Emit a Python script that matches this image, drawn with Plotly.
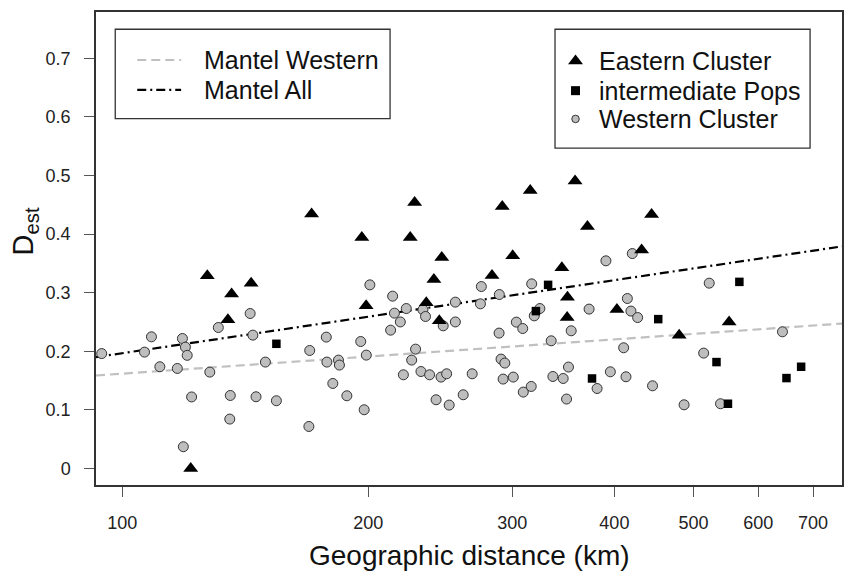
import numpy as np
import plotly.graph_objects as go

# ---------------- data ----------------
west_x = [94.4, 106.5, 108.6, 111.2, 116.8, 118.5, 119.5, 120.1, 121.6, 118.8, 128.0, 131.1,
          135.6, 135.4, 143.4, 144.5, 145.8, 149.7, 154.4, 200.9, 214.2, 215.3, 222.6, 218.9,
          213.0, 233.3, 235.0, 247.0, 255.6, 255.6, 275.0, 274.3, 289.3, 289.1, 303.5, 309.0,
          316.9, 324.3, 319.2, 334.8, 177.7, 169.6, 178.0, 183.9, 184.4, 195.8, 198.9, 181.0,
          188.3, 197.7, 169.2, 228.5, 226.0, 220.8, 232.0, 237.7, 245.5, 249.4, 268.0, 242.1,
          251.2, 261.3, 290.7, 293.8, 292.4, 300.9, 309.5, 316.5, 336.4, 390.6, 420.7, 522.5,
          372.5, 414.9, 419.1, 427.1, 354.2, 410.6, 642.2, 514.4, 351.5, 346.3, 395.5, 413.3,
          381.0, 445.4, 349.6, 486.8, 539.4]
west_y = [0.196, 0.1985, 0.2246, 0.1735, 0.1706, 0.2217, 0.207, 0.193, 0.122, 0.037, 0.1644, 0.2405,
          0.1245, 0.0842, 0.2644, 0.2275, 0.1223, 0.1815, 0.1155, 0.3133, 0.294, 0.265, 0.2729, 0.250,
          0.236, 0.2707, 0.2593, 0.2434, 0.2838, 0.250, 0.3104, 0.2809, 0.2968, 0.231, 0.2497, 0.2388,
          0.315, 0.2729, 0.2604, 0.2178, 0.2241, 0.2013, 0.1815, 0.1849, 0.1764, 0.2166, 0.1934, 0.145,
          0.124, 0.1001, 0.0716, 0.2036, 0.1849, 0.1598, 0.1654, 0.1598, 0.1559, 0.1615, 0.1615, 0.1172,
          0.1081, 0.1257, 0.1866, 0.1798, 0.1525, 0.1559, 0.1303, 0.1399, 0.1569, 0.3543, 0.3667, 0.3162,
          0.2719, 0.290, 0.2685, 0.2575, 0.2349, 0.2059, 0.2332, 0.1968, 0.173, 0.1535, 0.1649, 0.1564,
          0.1364, 0.141, 0.1184, 0.1086, 0.1104]

east_x = [127.1, 136.1, 143.8, 134.7, 121.3, 170.5, 196.4, 227.9, 225.1, 246.0, 240.6, 235.5,
          244.3, 198.8, 291.7, 315.6, 300.4, 283.4, 358.1, 370.8, 444.2, 431.9, 345.0, 350.5,
          350.2, 402.9, 480.1, 552.6]
east_y = [0.3287, 0.2975, 0.316, 0.2536, 0.0, 0.4344, 0.394, 0.4537, 0.394, 0.360, 0.3224, 0.2826,
          0.2519, 0.2775, 0.4469, 0.4742, 0.3628, 0.3292, 0.4907, 0.4128, 0.4332, 0.373, 0.3423, 0.2923,
          0.2575, 0.2712, 0.2275, 0.2497]

inter_x = [154.4, 331.9, 320.7, 568.8, 452.6, 533.3, 375.6, 550.8, 649.5, 676.9]
inter_y = [0.2127, 0.3133, 0.2685, 0.3184, 0.2548, 0.1815, 0.1535, 0.1104, 0.1542, 0.1735]

# Mantel regression lines: Dest = intercept + slope * log10(distance)
mantel_names = ["Mantel Western", "Mantel All"]
mantel_intercept = [-0.0327, -0.2176]
mantel_slope = [0.0972, 0.2071]

x_tick_vals = [100, 200, 300, 400, 500, 600, 700]
y_tick_vals = [0, 0.1, 0.2, 0.3, 0.4, 0.5, 0.6, 0.7]

marker_labels = ["Eastern Cluster", "intermediate Pops", "Western Cluster"]

# ---------------- styling ----------------
FONT = "Liberation Sans, Arial, sans-serif"
XRANGE_LOG = [1.968, 2.8805]
YRANGE = [-0.0283, 0.779]
GRAY_FILL = "#bebebe"
EDGE = "#333333"

fig = go.Figure()

# regression lines across the full x range
xl = np.logspace(XRANGE_LOG[0], XRANGE_LOG[1], 2)
line_styles = [dict(color="#c0c0c0", width=2.2, dash="9px,5px"),
               dict(color="#000000", width=2.2, dash="9px,4px,2px,4px")]
for name, a, b, st in zip(mantel_names, mantel_intercept, mantel_slope, line_styles):
    fig.add_trace(go.Scatter(x=xl, y=a + b * np.log10(xl), mode="lines", name=name,
                             line=st, showlegend=False, hoverinfo="skip"))

fig.add_trace(go.Scatter(x=west_x, y=west_y, mode="markers", name="Western Cluster",
                         marker=dict(symbol="circle", size=10, color=GRAY_FILL,
                                     line=dict(color=EDGE, width=1)), showlegend=False))
fig.add_trace(go.Scatter(x=east_x, y=east_y, mode="markers", name="Eastern Cluster",
                         marker=dict(symbol="triangle-up", size=13, color="black",
                                     line=dict(width=0)), showlegend=False))
fig.add_trace(go.Scatter(x=inter_x, y=inter_y, mode="markers", name="intermediate Pops",
                         marker=dict(symbol="square", size=8.5, color="black",
                                     line=dict(width=0)), showlegend=False))

# ---------------- manual legends (plot-area fractions) ----------------
shapes = []
annotations = []
# legend 1 box
shapes.append(dict(type="rect", xref="paper", yref="paper", x0=0.0258, x1=0.3942, y0=0.7746, y1=0.9635,
                   line=dict(color=EDGE, width=1.3), fillcolor="white", layer="below"))
leg1_rows = [0.8985, 0.8355]
for name, st, yy in zip(mantel_names, line_styles, leg1_rows):
    shapes.append(dict(type="line", xref="paper", yref="paper", x0=0.0553, x1=0.1141, y0=yy, y1=yy,
                       line=dict(color=st["color"], width=2.2, dash=st["dash"])))
    annotations.append(dict(text=name, xref="paper", yref="paper", x=0.1425, y=yy, xanchor="left",
                            yanchor="middle", showarrow=False,
                            font=dict(family=FONT, size=25, color="#111")))
# legend 2 box
shapes.append(dict(type="rect", xref="paper", yref="paper", x0=0.6153, x1=0.9572, y0=0.7120, y1=0.9635,
                   line=dict(color=EDGE, width=1.3), fillcolor="white", layer="below"))
leg2_rows = [0.8965, 0.8337, 0.7739]
leg2_x = 0.6428
fig.add_trace(go.Scatter(x=[leg2_x], y=[leg2_rows[0]], xaxis="x2", yaxis="y2", mode="markers",
                         marker=dict(symbol="triangle-up", size=13, color="black", line=dict(width=0)),
                         showlegend=False, hoverinfo="skip"))
fig.add_trace(go.Scatter(x=[leg2_x], y=[leg2_rows[1]], xaxis="x2", yaxis="y2", mode="markers",
                         marker=dict(symbol="square", size=9, color="black", line=dict(width=0)),
                         showlegend=False, hoverinfo="skip"))
fig.add_trace(go.Scatter(x=[leg2_x], y=[leg2_rows[2]], xaxis="x2", yaxis="y2", mode="markers",
                         marker=dict(symbol="circle", size=7.5, color=GRAY_FILL,
                                     line=dict(color=EDGE, width=1)),
                         showlegend=False, hoverinfo="skip"))
for name, yy in zip(marker_labels, leg2_rows):
    annotations.append(dict(text=name, xref="paper", yref="paper", x=0.6715, y=yy, xanchor="left",
                            yanchor="middle", showarrow=False,
                            font=dict(family=FONT, size=25, color="#111")))

# axis titles
annotations.append(dict(text="D<sub>est</sub>", xref="paper", yref="paper", x=-0.0958, y=0.535,
                        xanchor="center", yanchor="middle", textangle=-90, showarrow=False,
                        font=dict(family=FONT, size=29, color="#111")))
annotations.append(dict(text="Geographic distance (km)", xref="paper", yref="paper", x=0.5, y=-0.1494,
                        xanchor="center", yanchor="middle", showarrow=False,
                        font=dict(family=FONT, size=28, color="#111")))

axis_common = dict(showgrid=False, zeroline=False, showline=True, mirror=True,
                   linecolor=EDGE, linewidth=1.5, ticks="outside", ticklen=10,
                   tickcolor="#555", tickwidth=1.3,
                   tickfont=dict(family=FONT, size=18, color="#222"))

fig.update_layout(
    width=846, height=573,
    margin=dict(l=96, r=2, t=12, b=88),
    paper_bgcolor="white", plot_bgcolor="white",
    showlegend=False,
    xaxis=dict(type="log", range=XRANGE_LOG, tickvals=x_tick_vals,
               ticktext=[str(v) for v in x_tick_vals], ticklabelstandoff=11, **axis_common),
    yaxis=dict(range=YRANGE, tickvals=y_tick_vals,
               ticktext=[("0" if v == 0 else f"{v:.1f}") for v in y_tick_vals],
               ticklabelstandoff=10, **axis_common),
    xaxis2=dict(overlaying="x", range=[0, 1], visible=False),
    yaxis2=dict(overlaying="y", range=[0, 1], visible=False),
    shapes=shapes, annotations=annotations,
)

fig.write_html("out.html")
